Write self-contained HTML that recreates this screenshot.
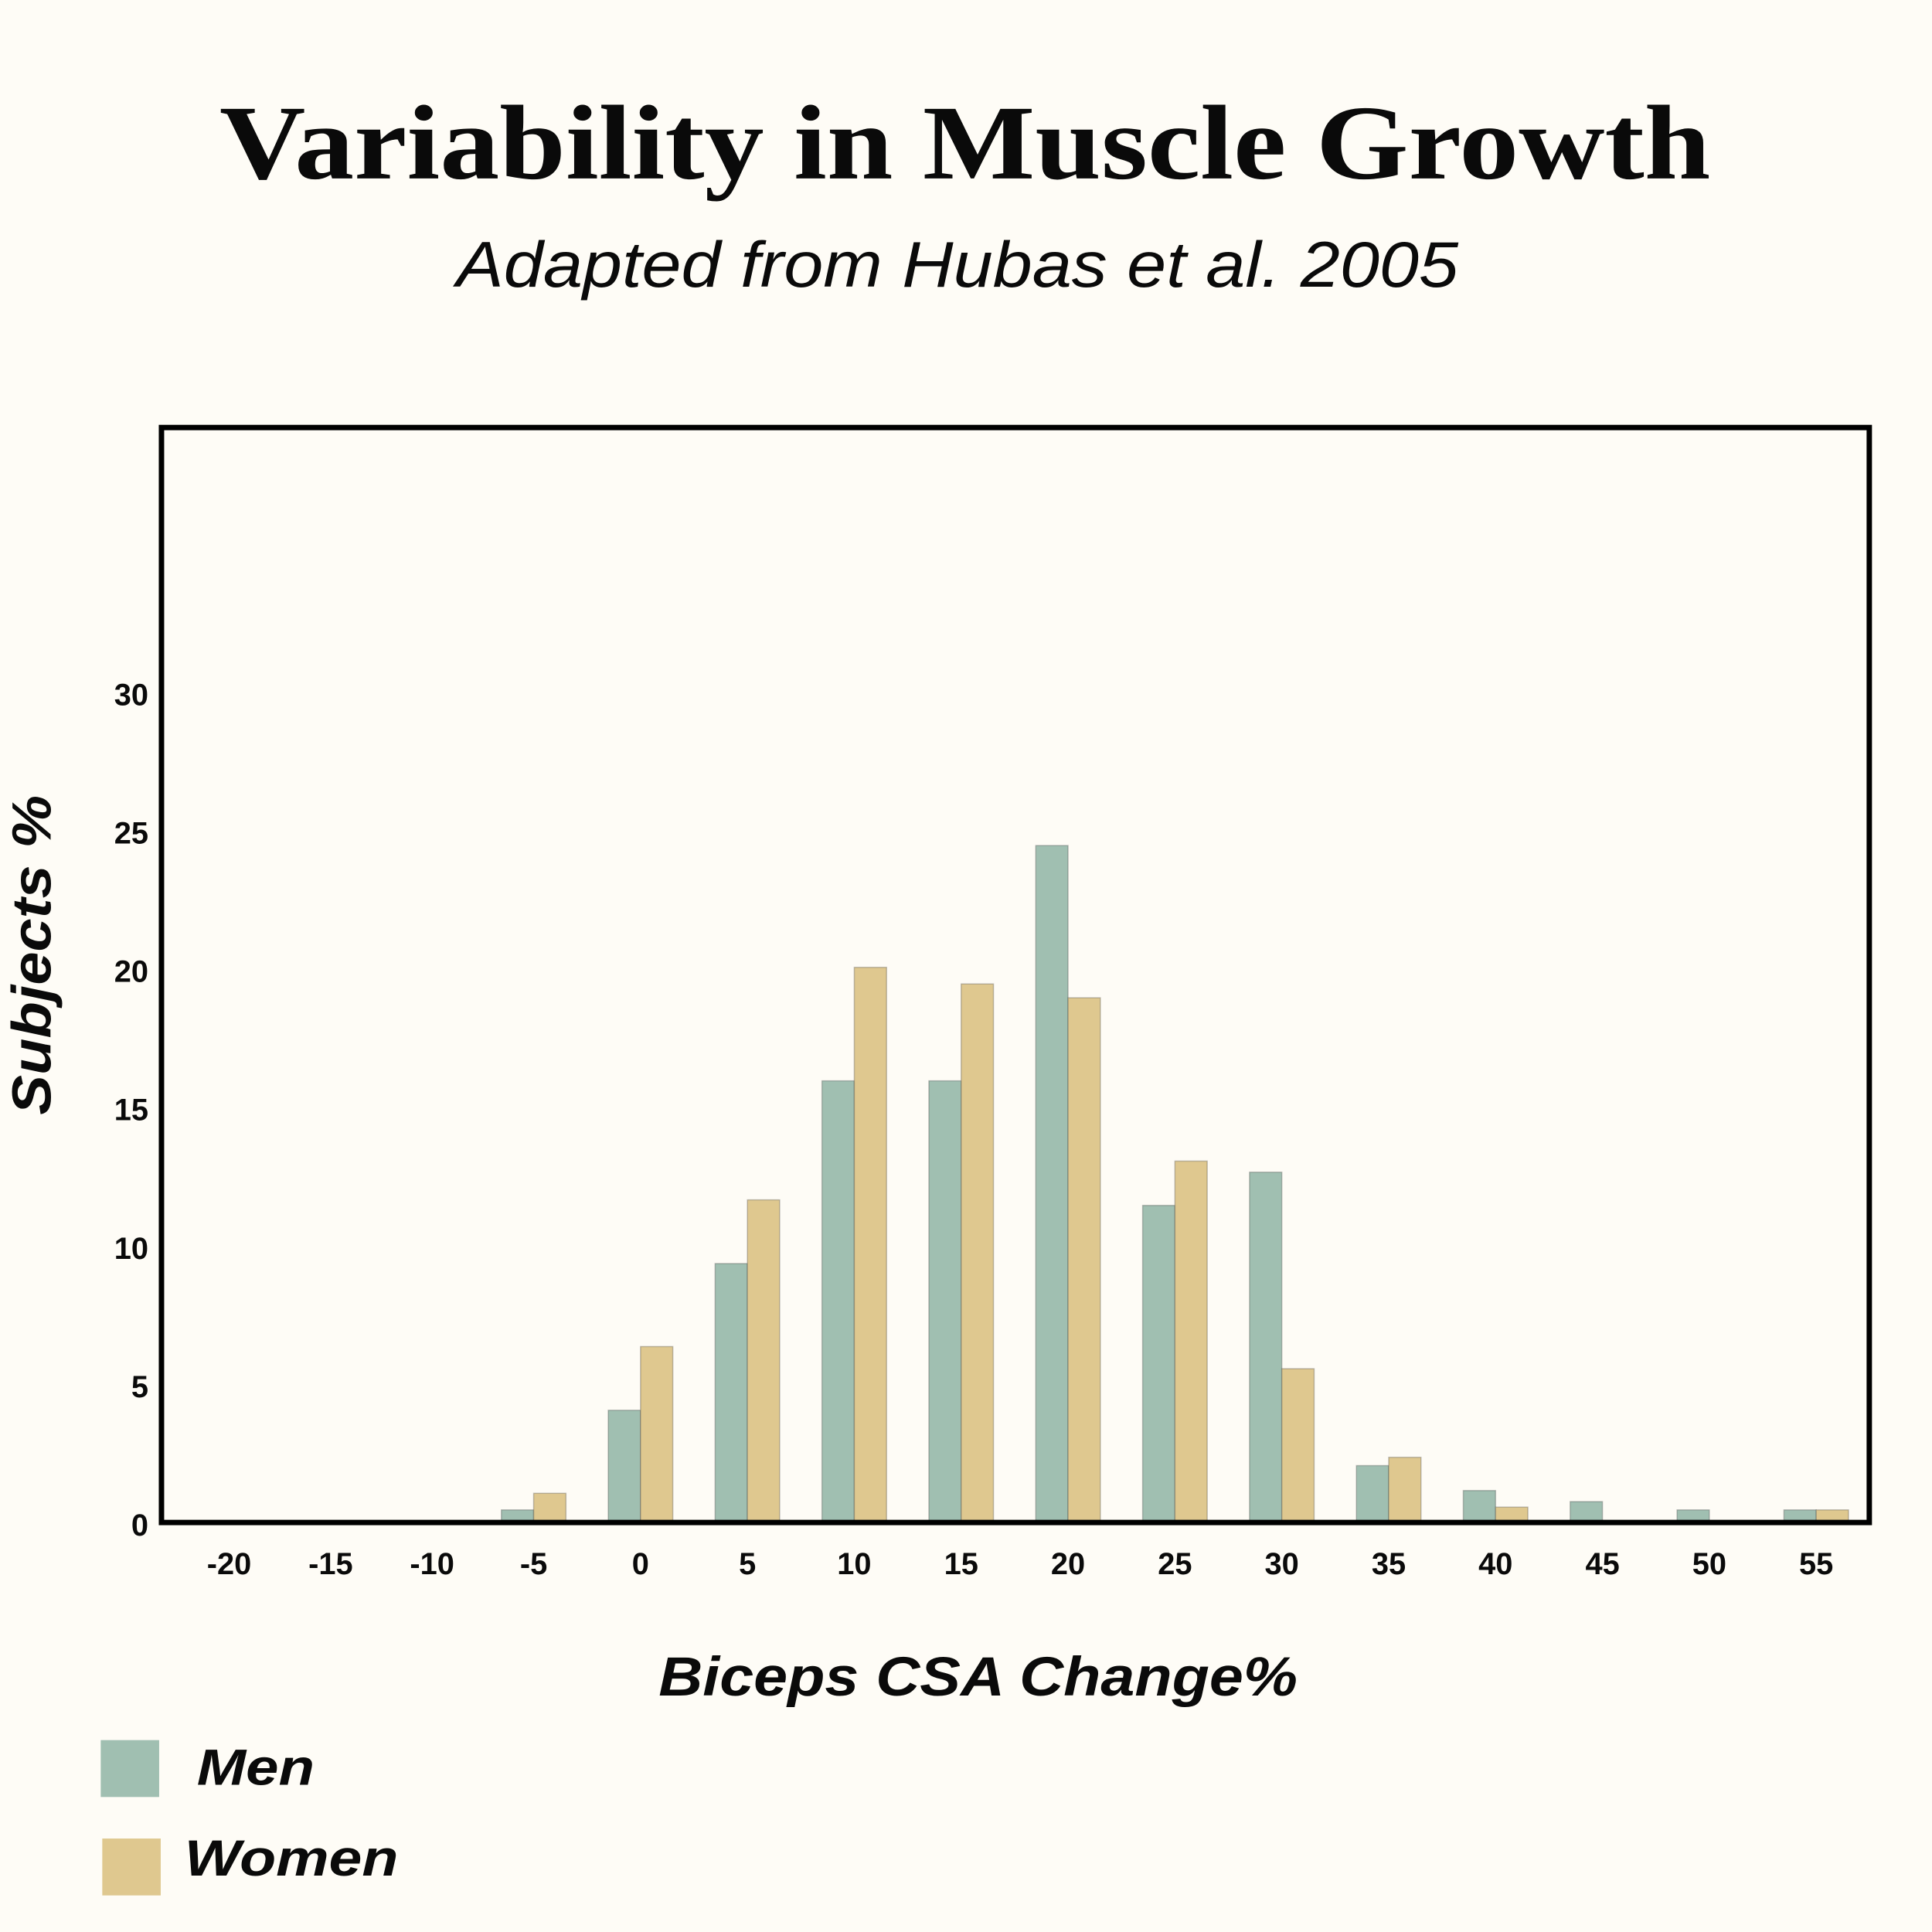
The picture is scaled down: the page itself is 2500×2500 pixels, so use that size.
<!DOCTYPE html>
<html><head><meta charset="utf-8"><style>
html,body{margin:0;padding:0;background:#fefcf6;}
svg{display:block;}
text{font-family:"Liberation Sans",sans-serif;fill:#0a0a0a;}
</style></head><body>
<svg id="chart" width="2500" height="2500" viewBox="0 0 2500 2500" xmlns="http://www.w3.org/2000/svg">
<rect width="2500" height="2500" fill="#fefcf6"/>
<g transform="scale(0.995)">
<text x="1255" y="232" text-anchor="middle" textLength="1939" lengthAdjust="spacingAndGlyphs" style="font-family:'Liberation Serif',serif;font-weight:bold;font-size:138px;">Variability in Muscle Growth</text>
<text x="1245" y="373" text-anchor="middle" textLength="1303" lengthAdjust="spacingAndGlyphs" style="font-style:italic;font-size:84px;">Adapted from Hubas et al. 2005</text>
<g id="bars"></g>
<g id="yticks"></g>
<g id="xticks"></g>
<rect x="210" y="556" width="2221" height="1424" fill="none" stroke="#000" stroke-width="7"/>
<text x="1272" y="2205" text-anchor="middle" textLength="831" lengthAdjust="spacingAndGlyphs" style="font-weight:bold;font-style:italic;font-size:72px;">Biceps CSA Change%</text>
<text transform="translate(66,1242) rotate(-90)" text-anchor="middle" textLength="416" lengthAdjust="spacingAndGlyphs" style="font-weight:bold;font-style:italic;font-size:72px;">Subjects %</text>
<rect x="131" y="2263" width="76" height="74" fill="#a0bfb1"/>
<text x="256" y="2321" textLength="153" lengthAdjust="spacingAndGlyphs" style="font-weight:bold;font-style:italic;font-size:66px;">Men</text>
<rect x="133" y="2391" width="76" height="74" fill="#dfc88f"/>
<text x="240" y="2439" textLength="278" lengthAdjust="spacingAndGlyphs" style="font-weight:bold;font-style:italic;font-size:66px;">Women</text>
</g>
</svg>
<script>
const categories = [-5, 0, 5, 10, 15, 20, 25, 30, 35, 40, 45, 50, 55];
const menValues = [0.4, 4.0, 9.3, 15.9, 15.9, 24.4, 11.4, 12.6, 2.0, 1.1, 0.7, 0.4, 0.4];
const womenValues = [1.0, 6.3, 11.6, 20.0, 19.4, 18.9, 13.0, 5.5, 2.3, 0.5, 0, 0, 0.4];
const xTickValues = [-20, -15, -10, -5, 0, 5, 10, 15, 20, 25, 30, 35, 40, 45, 50, 55];
const yTickValues = [0, 5, 10, 15, 20, 25, 30];

const NS = 'http://www.w3.org/2000/svg';
function xScale(v){ return 833 + v * 27.8; }
function yScale(v){ return 1978 - v * 36.0; }
const barW = 42;

const bars = document.getElementById('bars');
categories.forEach((c, i) => {
  const cx = xScale(c);
  [[menValues[i], '#a0bfb1', cx - barW, 'bar-men-' + c], [womenValues[i], '#dfc88f', cx, 'bar-women-' + c]].forEach(([v, col, x, name]) => {
    if (v <= 0) return;
    const r = document.createElementNS(NS, 'rect');
    r.setAttribute('x', x);
    r.setAttribute('y', yScale(v));
    r.setAttribute('width', barW);
    r.setAttribute('height', yScale(0) - yScale(v));
    r.setAttribute('fill', col);
    r.setAttribute('stroke', 'rgba(60,60,60,0.3)');
    r.setAttribute('stroke-width', '1.5');
    
    
    bars.appendChild(r);
  });
});

const yt = document.getElementById('yticks');
yTickValues.forEach(v => {
  const t = document.createElementNS(NS, 't' + 'ext');
  t.setAttribute('x', 193);
  t.setAttribute('y', yScale(v) + 19);
  t.setAttribute('text-anchor', 'end');
  t.setAttribute('style', 'font-weight:bold;font-size:40px;');
  t.textContent = v;
  
  
  yt.appendChild(t);
});

const xt = document.getElementById('xticks');
xTickValues.forEach(v => {
  const t = document.createElementNS(NS, 't' + 'ext');
  t.setAttribute('x', v >= -5 ? xScale(v) : xScale(-5) + (v + 5) * 26.4);
  t.setAttribute('y', 2047);
  t.setAttribute('text-anchor', 'middle');
  t.setAttribute('style', 'font-weight:bold;font-size:40px;');
  t.textContent = v;
  
  
  xt.appendChild(t);
});
</script>
</body></html>
